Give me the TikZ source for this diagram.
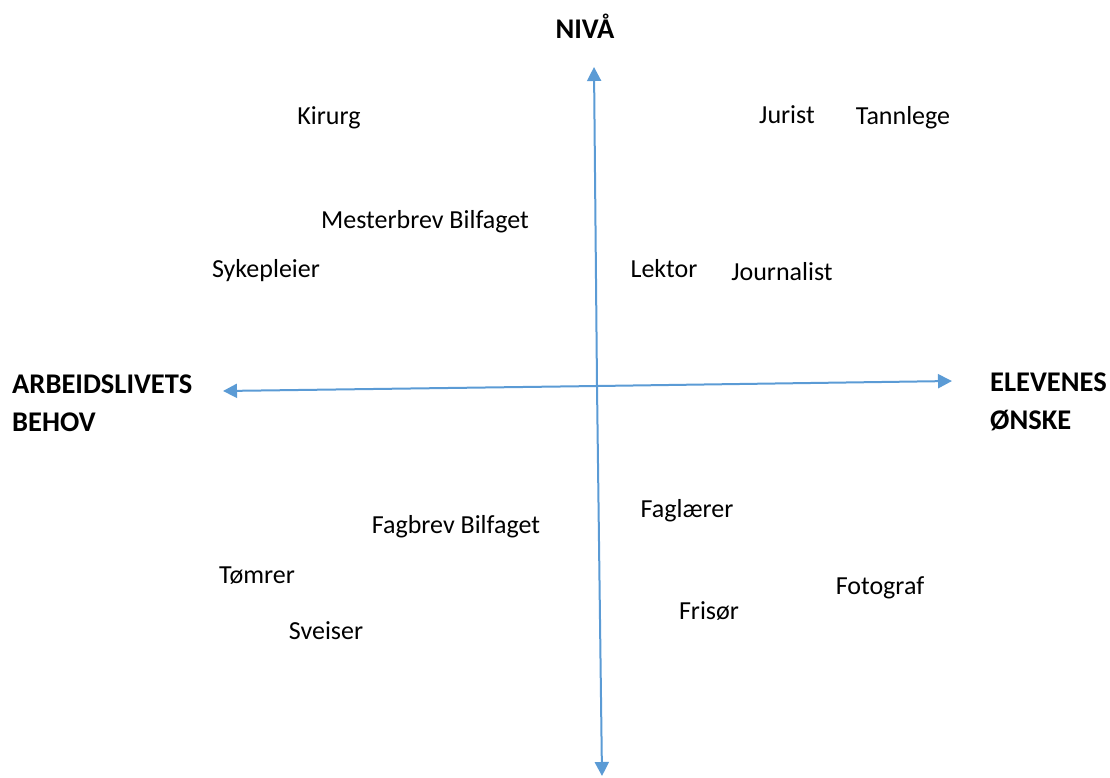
\documentclass[tikz,border=0pt]{standalone}
\usepackage{fontspec}
\setmainfont{Carlito}
\usetikzlibrary{arrows.meta}
\definecolor{axisblue}{HTML}{5B9BD5}
\begin{document}
\begin{tikzpicture}[x=1pt,y=-1pt,
  lbl/.style={anchor=base,inner sep=0pt,font=\fontsize{26}{37}\selectfont},
  blbl/.style={anchor=base west,inner sep=0pt,align=left,font=\fontsize{28.5}{37.5}\selectfont\bfseries},
  axis/.style={draw=axisblue,line width=2pt,-{Triangle[length=14pt,width=14pt]}}]
\useasboundingbox (0,0) rectangle (1110,777);
% axis end points
\coordinate (top) at (594,67);
\coordinate (bot) at (602,776);
\coordinate (left) at (223,391);
\coordinate (right) at (952,381);
\coordinate (c) at (597,386);
\draw[axis] (c) -- (top);
\draw[axis] (c) -- (bot);
\draw[axis] (c) -- (left);
\draw[axis] (c) -- (right);
% axis labels
\node[lbl,font=\fontsize{28.5}{37.5}\selectfont\bfseries] (niva) at (585,38) {NIVÅ};
\node[blbl] (arb) at (12,431) {ARBEIDSLIVETS\\BEHOV};
\node[blbl] (elev) at (990,429) {ELEVENES\\ØNSKE};
% occupations
\node[lbl] (kirurg) at (329,124) {Kirurg};
\node[lbl] (jurist) at (787,123) {Jurist};
\node[lbl] (tannlege) at (903,124) {Tannlege};
\node[lbl] (mester) at (425,228) {Mesterbrev Bilfaget};
\node[lbl] (syke) at (266,277) {Sykepleier};
\node[lbl] (lektor) at (664,277) {Lektor};
\node[lbl] (journ) at (782,280) {Journalist};
\node[lbl] (fagbrev) at (456,533) {Fagbrev Bilfaget};
\node[lbl] (faglaerer) at (687,517) {Faglærer};
\node[lbl] (tomrer) at (257,583) {Tømrer};
\node[lbl] (fotograf) at (880,594) {Fotograf};
\node[lbl] (frisor) at (709,619) {Frisør};
\node[lbl] (sveiser) at (326,639) {Sveiser};
\end{tikzpicture}
\end{document}
